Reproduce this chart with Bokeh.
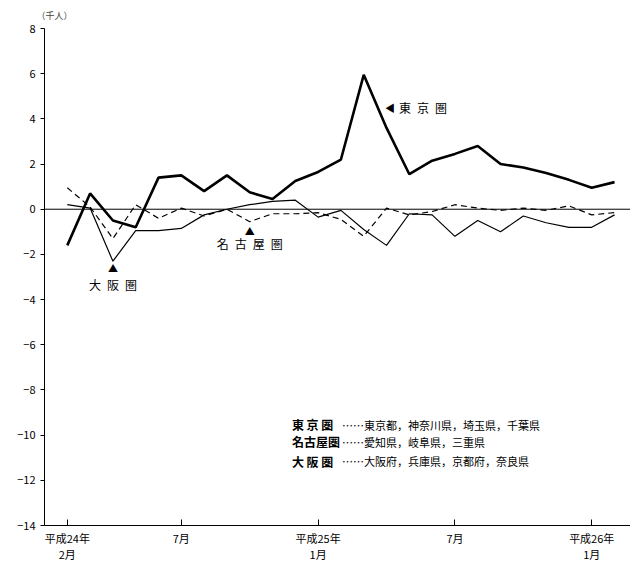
from bokeh.plotting import figure
from bokeh.models import Span, FixedTicker, Range1d
from bokeh.core.properties import value
from bokeh.embed import file_html
from bokeh.resources import INLINE

months = list(range(25))
tokyo = [-1.6, 0.7, -0.5, -0.8, 1.4, 1.5, 0.8, 1.5, 0.75, 0.45, 1.25, 1.65, 2.2, 5.95,
         3.6, 1.55, 2.15, 2.45, 2.8, 2.0, 1.85, 1.6, 1.3, 0.95, 1.2]
nagoya = [0.95, 0.1, -1.3, 0.2, -0.4, 0.05, -0.3, 0.0, -0.55, -0.2, -0.2, -0.15, -0.45, -1.2,
          0.05, -0.25, -0.1, 0.2, 0.05, -0.05, 0.05, -0.05, 0.15, -0.25, -0.15]
osaka = [0.2, 0.05, -2.3, -0.95, -0.95, -0.85, -0.25, 0.0, 0.2, 0.35, 0.4, -0.35, -0.05, -0.9,
         -1.6, -0.2, -0.25, -1.2, -0.5, -1.0, -0.3, -0.6, -0.8, -0.8, -0.25]
tick_pos = [0, 5, 11, 17, 23]
tick_labels = ["平成24年\n2月", "7月", "平成25年\n1月", "7月", "平成26年\n1月"]
y_ticks = list(range(-14, 9, 2))
legend_keys = ["東 京 圏", "名古屋圏", "大 阪 圏"]
legend_vals = ["……東京都，神奈川県，埼玉県，千葉県", "……愛知県，岐阜県，三重県", "……大阪府，兵庫県，京都府，奈良県"]
legend_y = [-9.55, -10.3, -11.15]

FONT = "Noto Sans CJK JP"
SP = "\u2002"

p = figure(frame_width=586, frame_height=497, output_backend="svg", toolbar_location=None,
           x_range=Range1d(-1.0, 24.7), y_range=Range1d(-14, 8),
           min_border_left=44, min_border_right=0, min_border_top=4, min_border_bottom=10,
           title="（千人）")
p.title.text_font = FONT
p.title.text_font_size = "9px"
p.title.text_font_style = "normal"
p.title.offset = -8
p.title.standoff = 13
p.outline_line_color = None
p.grid.visible = False
p.background_fill_color = "white"

p.xaxis.ticker = FixedTicker(ticks=tick_pos)
p.xaxis.major_label_overrides = {t: l for t, l in zip(tick_pos, tick_labels)}
p.xaxis.major_tick_in = 6
p.xaxis.major_tick_out = 0
p.xaxis.minor_tick_line_color = None
p.yaxis.ticker = FixedTicker(ticks=y_ticks)
p.yaxis.major_label_overrides = {t: str(t).replace("-", "−") for t in y_ticks}
p.yaxis.major_tick_in = 0
p.yaxis.major_tick_out = 4
p.yaxis.minor_tick_line_color = None
for ax in (p.xaxis, p.yaxis):
    ax.axis_line_color = "black"
    ax.major_tick_line_color = "black"
    ax.major_label_text_font = FONT
    ax.major_label_text_font_size = "11px"
    ax.major_label_text_color = "black"
p.xaxis.major_label_standoff = 4
p.xaxis.major_label_text_line_height = 1.0

p.add_layout(Span(location=0, dimension="width", line_color="black", line_width=1))

p.line(months, osaka, line_color="black", line_width=1.2)
p.line(months, nagoya, line_color="black", line_width=1.2, line_dash="6 4")
p.line(months, tokyo, line_color="black", line_width=2.6)

p.text([14.15], [4.5], text=["◀"], text_font=value(FONT), text_font_size="10px",
       text_baseline="middle", text_align="center")
p.text([14.55], [4.5], text=[SP.join("東京圏")], text_font=value(FONT), text_font_size="12px",
       text_baseline="middle")
p.text([8], [-0.95], text=["▲"], text_font=value(FONT), text_font_size="10px",
       text_baseline="middle", text_align="center")
p.text([8], [-1.5], text=[SP.join("名古屋圏")], text_font=value(FONT), text_font_size="12px",
       text_baseline="middle", text_align="center")
p.text([2], [-2.6], text=["▲"], text_font=value(FONT), text_font_size="10px",
       text_baseline="middle", text_align="center")
p.text([2], [-3.35], text=[SP.join("大阪圏")], text_font=value(FONT), text_font_size="12px",
       text_baseline="middle", text_align="center")

p.text([9.85] * 3, legend_y, text=legend_keys, text_font=value(FONT), text_font_size="12px",
       text_font_style="bold", text_baseline="middle")
p.text([12.05] * 3, legend_y, text=legend_vals, text_font=value(FONT), text_font_size="11px",
       text_baseline="middle")

open("out.html", "w").write(file_html(p, INLINE))
